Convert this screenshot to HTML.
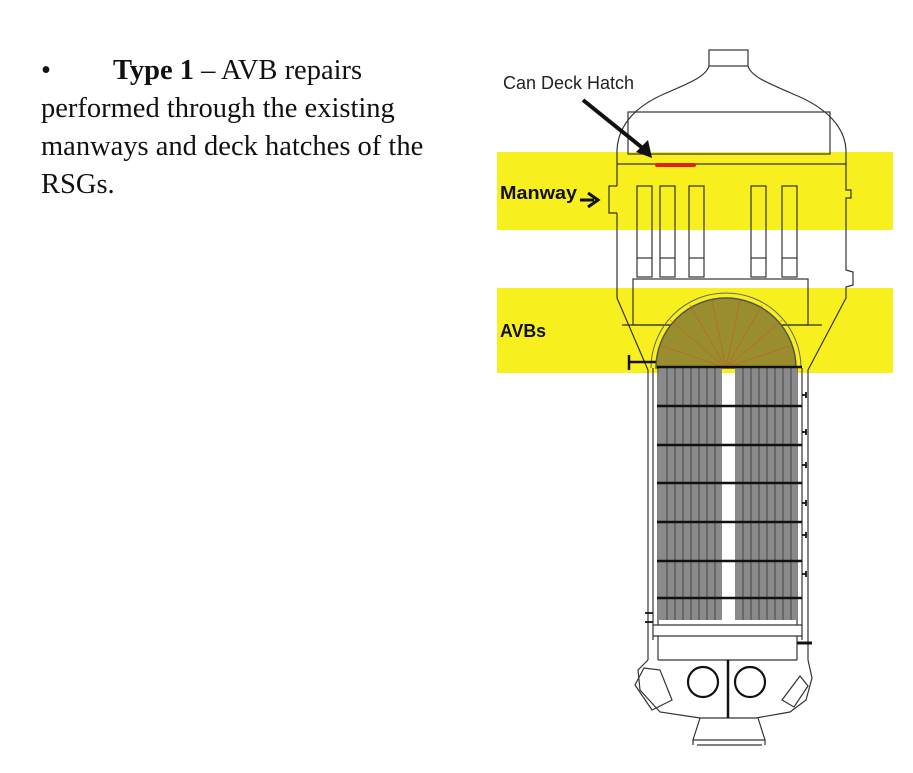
<!DOCTYPE html>
<html><head><meta charset="utf-8"><style>
html,body{margin:0;padding:0;background:#fff;}
body{width:913px;height:773px;overflow:hidden;position:relative;}
.t{position:absolute;left:41px;font-family:"Liberation Serif",serif;font-size:28.5px;color:#111;white-space:nowrap;line-height:30px;}
</style></head><body>
<div class="t" style="top:56px">•<span style="display:inline-block;width:62px"></span><b>Type 1</b> – AVB repairs</div>
<div class="t" style="top:94px">performed through the existing</div>
<div class="t" style="top:132px">manways and deck hatches of the</div>
<div class="t" style="top:170px">RSGs.</div>
<svg width="913" height="773" style="position:absolute;left:0;top:0" xmlns="http://www.w3.org/2000/svg">
<rect x="497" y="152" width="396" height="78" fill="#f8ef1e"/>
<rect x="497" y="288" width="396" height="85" fill="#f8ef1e"/>
<g fill="none" stroke="#333" stroke-width="1.2">
<rect x="709" y="50" width="39" height="16"/>
<path d="M709 66 C706 76 692 82 664 94 C632 108 618 128 617 150 M748 66 C751 76 765 82 793 94 C828 108 845 128 846 150"/>
<rect x="628" y="112" width="202" height="42"/>
<path d="M617 150 L617 186 M617 213 L617 298 L648 370 L648 660"/>
<path d="M846 150 L846 190 L851 190 L851 198 L846 198 L846 270 L853 272 L853 285 L846 287 L846 298 L808 370 L808 660"/>
<path d="M617 186 L609 186 L609 213 L617 213"/>
<line x1="617" y1="164" x2="846" y2="164"/>
<rect x="637" y="186" width="15" height="91"/><line x1="637" y1="258" x2="652" y2="258"/>
<rect x="660" y="186" width="15" height="91"/><line x1="660" y1="258" x2="675" y2="258"/>
<rect x="689" y="186" width="15" height="91"/><line x1="689" y1="258" x2="704" y2="258"/>
<rect x="751" y="186" width="15" height="91"/><line x1="751" y1="258" x2="766" y2="258"/>
<rect x="782" y="186" width="15" height="91"/><line x1="782" y1="258" x2="797" y2="258"/>
<rect x="633" y="279" width="175" height="46"/>
<path d="M622 325 L822 325"/>
<path d="M658 368 L658 625 M797 368 L797 625 M653 368 L653 640 M802 368 L802 640"/>
<line x1="653" y1="625" x2="802" y2="625"/><line x1="653" y1="636" x2="802" y2="636"/>
<path d="M658 636 L658 660 M797 636 L797 660"/>
<line x1="658" y1="660" x2="797" y2="660"/>
<path d="M648 660 L638 670 L640 690 L660 712 L700 718 L756 718 L790 712 L806 700 L812 678 L808 660"/>
<path d="M644 668 L660 670 L672 700 L652 710 L635 685 Z"/>
<path d="M800 676 L808 686 L794 707 L782 700 Z"/>
<path d="M700 718 L693 740 L765 740 L758 718 M697 745 L762 745 M693 740 L693 745 M765 740 L765 745"/>
</g>
<path d="M656 368 A70 70 0 0 1 796 368 Z" fill="#9a8d2e" stroke="#555" stroke-width="1.5"/>
<path d="M651 368 A75 75 0 0 1 801 368" fill="none" stroke="#666" stroke-width="1"/>
<g stroke="#c55a2a" stroke-width="0.8" opacity="0.7">
<line x1="726" y1="368" x2="660" y2="345"/><line x1="726" y1="368" x2="670" y2="320"/><line x1="726" y1="368" x2="690" y2="305"/>
<line x1="726" y1="368" x2="712" y2="300"/><line x1="726" y1="368" x2="740" y2="300"/><line x1="726" y1="368" x2="762" y2="305"/>
<line x1="726" y1="368" x2="782" y2="320"/><line x1="726" y1="368" x2="792" y2="345"/>
</g>
<rect x="659" y="368" width="63" height="252" fill="#8a8a8a"/>
<rect x="735" y="368" width="62" height="252" fill="#8a8a8a"/>
<g stroke="#444" stroke-width="1">
<path d="M667 368V620M675 368V620M683 368V620M691 368V620M699 368V620M707 368V620M715 368V620M743 368V620M751 368V620M759 368V620M767 368V620M775 368V620M783 368V620M791 368V620"/>
</g>
<g stroke="#111" stroke-width="2.5">
<line x1="657" y1="367" x2="802" y2="367"/>
<line x1="657" y1="406" x2="802" y2="406"/><line x1="657" y1="445" x2="802" y2="445"/>
<line x1="657" y1="483" x2="802" y2="483"/><line x1="657" y1="522" x2="802" y2="522"/>
<line x1="657" y1="561" x2="802" y2="561"/><line x1="657" y1="598" x2="802" y2="598"/>
<line x1="629" y1="362" x2="656" y2="362"/><line x1="629" y1="355" x2="629" y2="370"/>
<line x1="728" y1="660" x2="728" y2="718"/>
<line x1="797" y1="643" x2="812" y2="643" stroke-width="3"/>
</g>
<g stroke="#111" stroke-width="1.8">
<path d="M802 395h4M806 392v6M802 432h4M806 429v6M802 465h4M806 462v6M802 503h4M806 500v6M802 535h4M806 532v6M802 574h4M806 571v6"/>
<path d="M645 613h8M645 622h8"/>
</g>
<circle cx="703" cy="682" r="15" fill="none" stroke="#111" stroke-width="2.2"/>
<circle cx="750" cy="682" r="15" fill="none" stroke="#111" stroke-width="2.2"/>
<line x1="657" y1="165" x2="694" y2="165" stroke="#e02020" stroke-width="4" stroke-linecap="round"/>
<text x="503" y="89" font-family="'Liberation Sans',sans-serif" font-size="18" fill="#222" textLength="131" lengthAdjust="spacingAndGlyphs">Can Deck Hatch</text>
<line x1="583" y1="100" x2="645" y2="150" stroke="#111" stroke-width="4"/>
<path d="M652 158 L636 152 L648 140 Z" fill="#111"/>
<text x="500" y="199" font-family="'Liberation Sans',sans-serif" font-size="18" font-weight="bold" fill="#111" textLength="77" lengthAdjust="spacingAndGlyphs">Manway</text>
<line x1="580" y1="200" x2="594" y2="200" stroke="#111" stroke-width="3"/>
<path d="M588 193 L598 200 L588 207" fill="none" stroke="#111" stroke-width="3"/>
<text x="500" y="337" font-family="'Liberation Sans',sans-serif" font-size="18" font-weight="bold" fill="#111" textLength="46" lengthAdjust="spacingAndGlyphs">AVBs</text>
</svg>
</body></html>
